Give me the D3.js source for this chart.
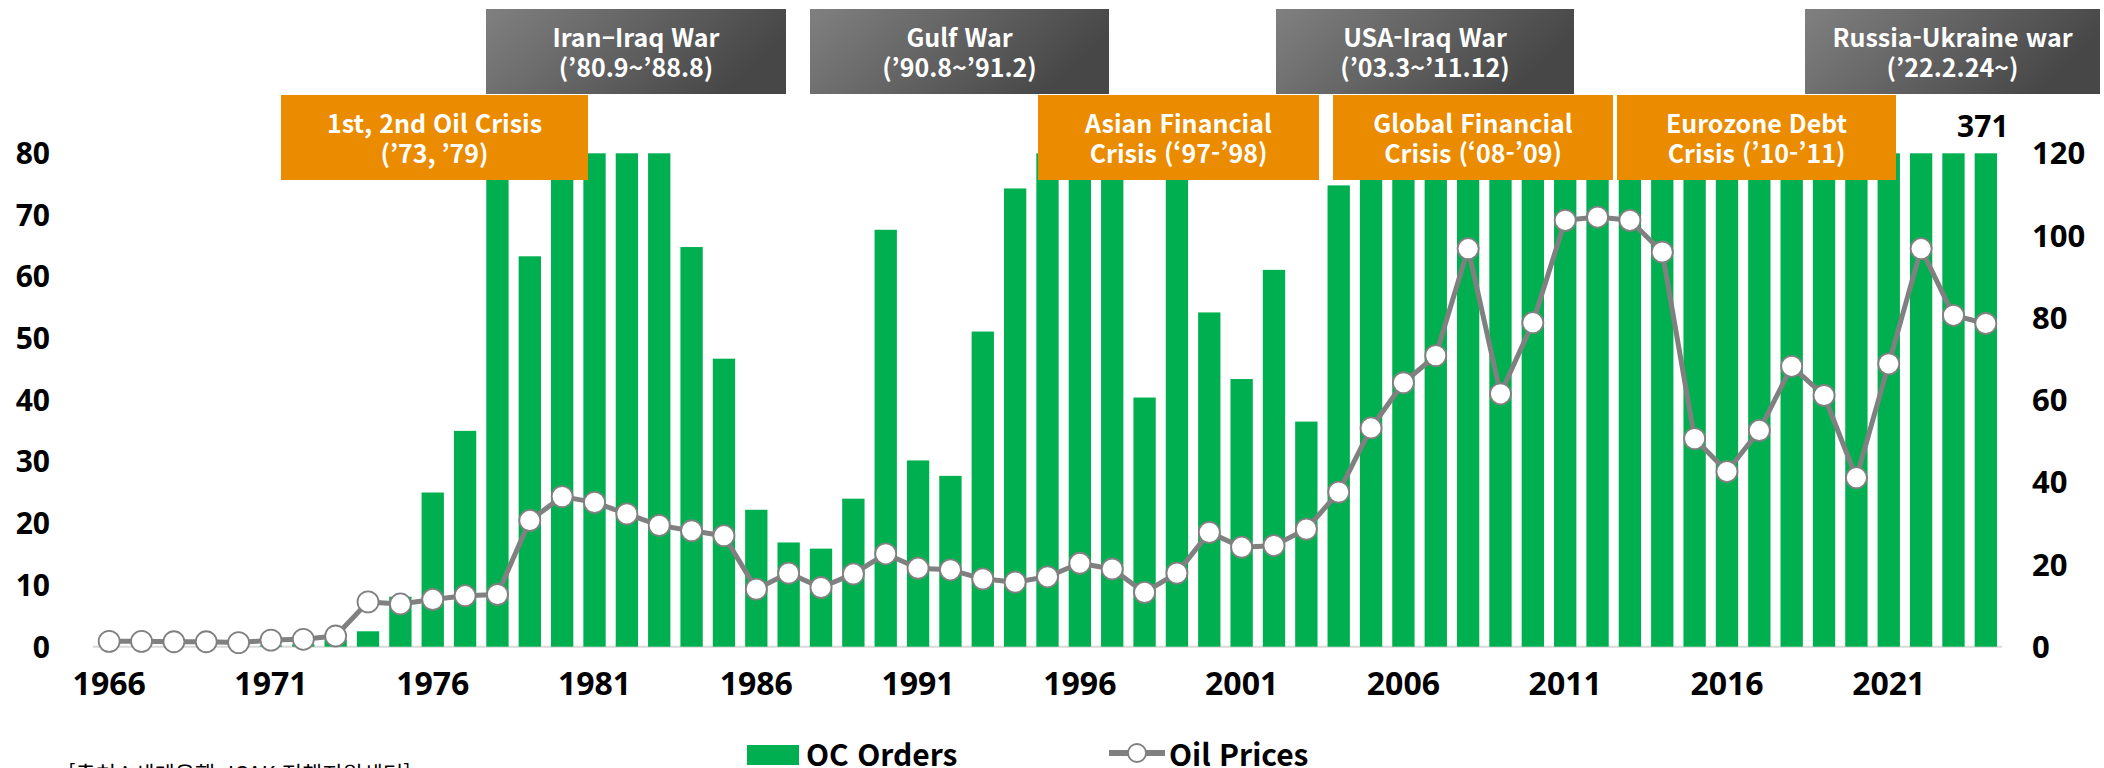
<!DOCTYPE html>
<html lang="ko">
<head>
    <meta charset="UTF-8">
    <title>OC Orders and Oil Prices</title>
    <script src="https://d3js.org/d3.v7.min.js"></script>
    <style>
        body {
            margin: 0;
            background: #fff;
            font-family: "Noto Sans CJK KR", "Open Sans", sans-serif;
        }
        svg text {
            font-weight: bold;
        }
        .tick-label {
            font-family: "Open Sans", sans-serif;
            font-size: 31px;
            fill: #000;
        }
        .legend-label {
            font-size: 30px;
            fill: #000;
        }
        .box-text {
            font-size: 25px;
            fill: #fff;
            text-anchor: middle;
        }
    </style>
</head>
<body>
    <div id="chart"></div>

    <script>
        // years 1966 .. 2024
        const years = d3.range(1966, 2025);

        // bars (left axis); bars above 80 are cut off at the top of the axis
        const ocOrders = [
            0, 0, 0, 0, 0, 0.2, 0.4, 1.2, 2.5, 8.1,
            25, 35, 80, 63.3, 80, 80, 80, 80, 64.8, 46.7,
            22.2, 16.9, 15.9, 24.0, 67.6, 30.2, 27.7, 51.1, 74.3, 80,
            80, 80, 40.4, 80, 54.2, 43.4, 61.1, 36.5, 74.8, 80,
            80, 80, 80, 80, 80, 80, 80, 80, 80, 80,
            80, 80, 80, 80, 80, 80, 80, 80, 371
        ];

        // line (right axis)
        const oilPrices = [
            1.3, 1.3, 1.2, 1.2, 1.0, 1.6, 1.8, 2.6, 10.9, 10.4,
            11.5, 12.4, 12.7, 30.7, 36.5, 35.1, 32.3, 29.5, 28.2, 27.0,
            14.0, 17.9, 14.4, 17.7, 22.6, 19.1, 18.7, 16.5, 15.7, 17.0,
            20.3, 18.9, 13.2, 17.9, 27.8, 24.2, 24.6, 28.6, 37.6, 53.2,
            64.2, 70.8, 96.8, 61.5, 78.8, 103.7, 104.5, 103.7, 96.0, 50.6,
            42.6, 52.6, 68.2, 61.1, 41.1, 68.8, 96.8, 80.6, 78.6
        ];

        const leftTicks = [0, 10, 20, 30, 40, 50, 60, 70, 80];
        const rightTicks = [0, 20, 40, 60, 80, 100, 120];
        const xTickYears = [1966, 1971, 1976, 1981, 1986, 1991, 1996, 2001, 2006, 2011, 2016, 2021];

        const warLabels = [
            ["Iran\u2013Iraq War", "(\u201980.9~\u201988.8)"],
            ["Gulf War", "(\u201990.8~\u201991.2)"],
            ["USA-Iraq War", "(\u201903.3~\u201911.12)"],
            ["Russia-Ukraine war", "(\u201922.2.24~)"]
        ];
        const crisisLabels = [
            ["1st, 2nd Oil Crisis", "(\u201973, \u201979)"],
            ["Asian Financial", "Crisis (\u201897-\u201998)"],
            ["Global Financial", "Crisis (\u201808-\u201909)"],
            ["Eurozone Debt", "Crisis (\u201910-\u201911)"]
        ];
        const seriesNames = ["OC Orders", "Oil Prices"];
        const sourceNote = "[출처 : 세계은행, ICAK 정책지원센터]";

        // layout
        const width = 2104;
        const height = 768;
        const warBoxes = [[486, 786], [810, 1109], [1276, 1574], [1805, 2100]];
        const crisisBoxes = [[281, 588], [1038, 1319], [1333, 1613], [1617, 1896]];
        const green = "#00B050";
        const orange = "#EA8B00";
        const lineGray = "#808080";

        const svg = d3.select("#chart")
            .append("svg")
            .attr("width", width)
            .attr("height", height);

        const x = d3.scaleBand()
            .domain(years)
            .range([93, 2002])
            .paddingInner(0.31)
            .paddingOuter(0.155);

        const yLeft = d3.scaleLinear().domain([0, 80]).range([646.7, 153.3]);
        const yRight = d3.scaleLinear().domain([0, 120]).range([646.7, 153.3]);

        const cx = d => x(d) + x.bandwidth() / 2;

        // baseline
        svg.append("line")
            .attr("x1", 93).attr("x2", 2002)
            .attr("y1", yLeft(0)).attr("y2", yLeft(0))
            .attr("stroke", "#d9d9d9")
            .attr("stroke-width", 2);

        // bars
        svg.selectAll(".bar")
            .data(years)
            .enter()
            .append("rect")
            .attr("class", "bar")
            .attr("x", d => x(d))
            .attr("width", x.bandwidth())
            .attr("y", (d, i) => yLeft(Math.min(ocOrders[i], 80)))
            .attr("height", (d, i) => yLeft(0) - yLeft(Math.min(ocOrders[i], 80)))
            .attr("fill", green);

        // value label for the last (cut off) bar
        const lastIdx = years.length - 1;
        svg.append("text")
            .attr("x", cx(years[lastIdx]) - 3)
            .attr("y", 137)
            .attr("text-anchor", "middle")
            .attr("class", "tick-label")
            .style("font-size", "30px")
            .text(ocOrders[lastIdx]);

        // oil price line
        const line = d3.line()
            .x((d, i) => cx(years[i]))
            .y(d => yRight(d));

        svg.append("path")
            .datum(oilPrices)
            .attr("d", line)
            .attr("fill", "none")
            .attr("stroke", lineGray)
            .attr("stroke-width", 5)
            .attr("stroke-linejoin", "round");

        svg.selectAll(".marker")
            .data(oilPrices)
            .enter()
            .append("circle")
            .attr("class", "marker")
            .attr("cx", (d, i) => cx(years[i]))
            .attr("cy", d => yRight(d))
            .attr("r", 10.5)
            .attr("fill", "#fff")
            .attr("stroke", lineGray)
            .attr("stroke-width", 1.8);

        // axes labels
        svg.selectAll(".left-tick")
            .data(leftTicks)
            .enter()
            .append("text")
            .attr("class", "tick-label")
            .attr("x", 50)
            .attr("y", d => yLeft(d))
            .attr("dy", "0.36em")
            .attr("text-anchor", "end")
            .style("font-size", "30px")
            .text(d => d);

        svg.selectAll(".right-tick")
            .data(rightTicks)
            .enter()
            .append("text")
            .attr("class", "tick-label")
            .attr("x", 2032)
            .attr("y", d => yRight(d))
            .attr("dy", "0.36em")
            .attr("text-anchor", "start")
            .text(d => d);

        svg.selectAll(".x-tick")
            .data(xTickYears)
            .enter()
            .append("text")
            .attr("class", "tick-label")
            .attr("x", d => cx(d))
            .attr("y", 695)
            .attr("text-anchor", "middle")
            .style("font-size", "32px")
            .text(d => d);

        // annotation boxes
        const defs = svg.append("defs");
        const grad = defs.append("linearGradient")
            .attr("id", "grayGrad")
            .attr("x1", 0).attr("y1", 0)
            .attr("x2", 1).attr("y2", 0.3);
        grad.append("stop").attr("offset", "0%").attr("stop-color", "#808080");
        grad.append("stop").attr("offset", "100%").attr("stop-color", "#474747");

        function drawBoxes(boxes, labels, top, bottom, fill) {
            const g = svg.append("g");
            boxes.forEach((b, i) => {
                g.append("rect")
                    .attr("x", b[0])
                    .attr("y", top)
                    .attr("width", b[1] - b[0])
                    .attr("height", bottom - top)
                    .attr("fill", fill);
                const mid = (b[0] + b[1]) / 2;
                g.append("text")
                    .attr("class", "box-text")
                    .attr("x", mid)
                    .attr("y", top + 38)
                    .text(labels[i][0]);
                g.append("text")
                    .attr("class", "box-text")
                    .attr("x", mid)
                    .attr("y", top + 68)
                    .text(labels[i][1]);
            });
        }

        drawBoxes(warBoxes, warLabels, 9, 94, "url(#grayGrad)");
        drawBoxes(crisisBoxes, crisisLabels, 95, 180, orange);

        // legend
        const legend = svg.append("g");
        legend.append("rect")
            .attr("x", 747).attr("y", 745)
            .attr("width", 52).attr("height", 20)
            .attr("fill", green);
        legend.append("text")
            .attr("class", "legend-label")
            .attr("x", 806).attr("y", 766)
            .text(seriesNames[0]);

        legend.append("line")
            .attr("x1", 1109).attr("x2", 1165)
            .attr("y1", 753).attr("y2", 753)
            .attr("stroke", lineGray)
            .attr("stroke-width", 6);
        legend.append("circle")
            .attr("cx", 1137).attr("cy", 753)
            .attr("r", 9)
            .attr("fill", "#fff")
            .attr("stroke", lineGray)
            .attr("stroke-width", 1.8);
        legend.append("text")
            .attr("class", "legend-label")
            .attr("x", 1169).attr("y", 766)
            .text(seriesNames[1]);

        // source note (cut by the bottom edge)
        svg.append("text")
            .attr("x", 68)
            .attr("y", 782)
            .attr("font-size", 22)
            .style("font-weight", "normal")
            .text(sourceNote);
    </script>
</body>
</html>
